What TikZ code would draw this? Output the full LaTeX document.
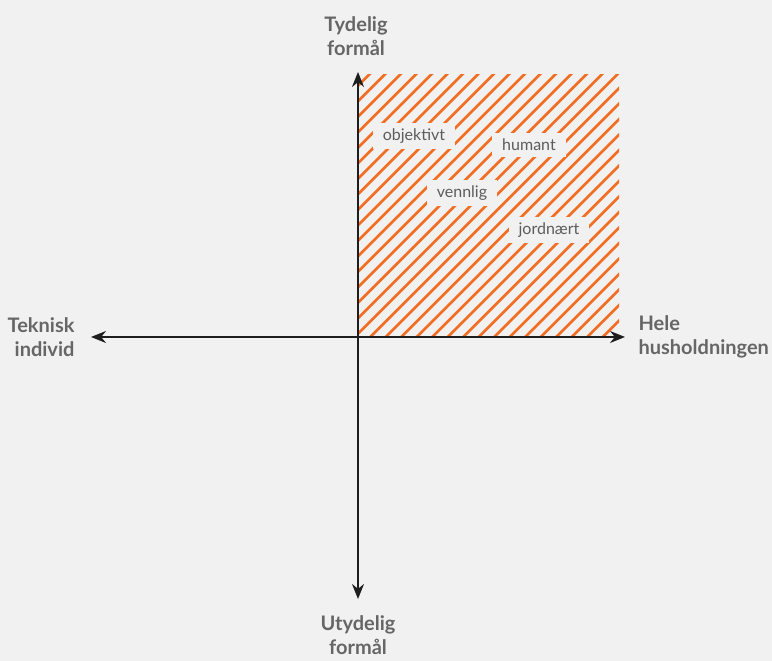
\documentclass[tikz,border=0pt]{standalone}
\usepackage{fontspec}
\setmainfont{Lato}
\usetikzlibrary{arrows.meta}

\definecolor{bgcol}{HTML}{F1F1F1}
\definecolor{hatchcol}{HTML}{F26E22}
\definecolor{labcol}{HTML}{666666}
\definecolor{axiscol}{HTML}{1E1E1E}

\tikzset{
  axis/.style={line width=1.8pt, axiscol, {Stealth[length=15pt,width=12pt]}-{Stealth[length=15pt,width=12pt]}},
  axislabel/.style={text=labcol, font=\fontsize{20}{24}\selectfont\bfseries, align=center},
  wordbox/.style={fill=bgcol, text=labcol!90!black, font=\fontsize{16}{18}\selectfont, inner xsep=10pt, inner ysep=6pt},
  hatch/.style={hatchcol, line width=2.6pt}
}

\begin{document}
\begin{tikzpicture}[x=1pt,y=1pt]
  \fill[bgcol] (0,0) rectangle (772,661);
  \useasboundingbox (0,0) rectangle (772,661);

  % hatched quadrant
  \begin{scope}
    \clip (358,324) rectangle (619,586);
    \foreach \k in {-16,...,17}
      \draw[hatch] ({30.7-15.5*\k+200},200) -- ++(500,500);
  \end{scope}

  % axis ends
  \coordinate (origin) at (358,324);
  \coordinate (top) at (358,589);
  \coordinate (bottom) at (358,62);
  \coordinate (left) at (91,324);
  \coordinate (right) at (625,324);

  \draw[axis] (left) -- (right);
  \draw[axis] (bottom) -- (top);

  % axis labels
  \node[axislabel] (tydelig) at (356,625) {Tydelig\\formål};
  \node[axislabel] (utydelig) at (358,26) {Utydelig\\formål};
  \node[axislabel, align=right, anchor=east] (teknisk) at (78,324) {Teknisk\\individ};
  \node[axislabel, align=left, anchor=west] (hele) at (635,324) {Hele\\husholdningen};

  % words in the quadrant
  \node[wordbox] (objektivt) at (414,525) {objektivt};
  \node[wordbox] (humant) at (529,516) {humant};
  \node[wordbox] (vennlig) at (462,468) {vennlig};
  \node[wordbox] (jordnaert) at (549,431) {jordnært};
\end{tikzpicture}
\end{document}
